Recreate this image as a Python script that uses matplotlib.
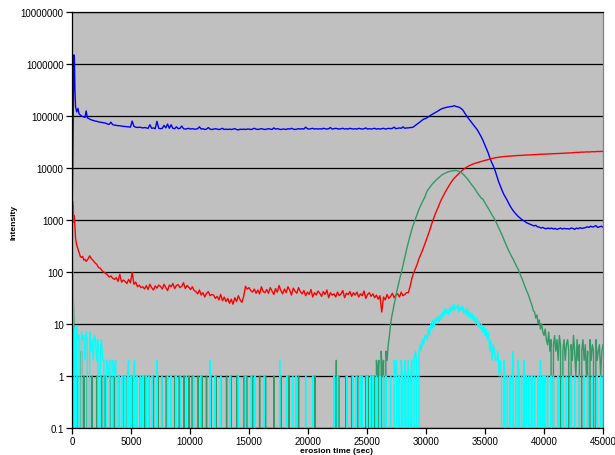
import numpy as np
import matplotlib
matplotlib.use("Agg")
import matplotlib.pyplot as plt
from matplotlib.ticker import FixedLocator, NullLocator

plt.rcParams['font.family'] = ['Liberation Sans', 'DejaVu Sans']

# ---------------- data ----------------
# blue / red sampling: fine start, then every 150 s
t_start = [0, 50, 100, 150, 200, 250, 300, 400, 500, 600, 700, 800, 900, 1000, 1100, 1200, 1300, 1400]
t_main = np.arange(1500, 45001, 150)
t_br = np.concatenate([t_start, t_main])

blue = np.array("""
600 5000 100000 1500000 1300000 300000 150000 120000 140000 110000 105000 100000 98000 96000 94000 125000 92000 90000
87000 84000 82000 80000 79000 77000 76000 75000 74000 73000
70000 69000 76000 68000 67000 66000 65000 65000 64000 63000
63000 62000 62000 61000 80000 63000 61000 60000 61000 60000
59000 60000 59000 58000 68000 58000 59000 57000 79000 58000
57000 58000 66000 59000 70000 58000 68000 58000 57000 62000
57000 58000 64000 57000 56000 57000 58000 56000 57000 56000
56000 57000 62000 56000 57000 55000 56000 60000 56000 55000
56000 57000 56000 55000 56000 58000 55000 56000 55000 56000
55000 56000 57000 55000 54000 56000 55000 56000 55000 56000
56000 55000 56000 58000 56000 55000 56000 57000 56000 55000
56000 57000 56000 55000 59000 56000 57000 56000 55000 56000
56000 55000 57000 56000 58000 56000 55000 56000 57000 56000
57000 56000 61000 57000 56000 57000 58000 56000 57000 56000
57000 56000 58000 57000 56000 57000 60000 56000 57000 58000
57000 56000 57000 58000 56000 57000 56000 58000 57000 56000
57000 56000 58000 57000 56000 57000 59000 56000 57000 56000
57000 58000 56000 57000 56000 57000 58000 56000 57000 58000
57000 58000 61000 57000 58000 59000 58000 62000 58000 59000
59000 60000 60000 62000 66000 70000 74000 79000 84000 88000
90000 95000 100000 105000 110000 115000 120000 126000 133000 138000
142000 145000 148000 150000 152000 153000 158000 152000 150000 146000
138000 128000 112000 100000 90000 81000 73000 66000 60000 54000
47000 41000 35000 29000 24000 20000 16000 13000 11000 9000
7000 5500 4500 3700 3100 2700 2350 2000 1750 1550
1400 1280 1180 1100 1030 980 930 880 850 820
790 770 790 740 730 700 720 690 680 700
680 700 670 690 660 680 700 670 690 680
680 670 700 690 660 700 680 710 690 700
710 740 720 760 730 750 780 720 740 760
730
""".split(), dtype=float)

red = np.array("""
50 2300 1800 900 1200 700 450 330 280 240 200 190 200 170 175 160 170 185
205 180 165 150 140 122 118 106 100 94
88 80 84 76 72 78 66 90 64 70
66 60 72 62 98 58 64 52 56 50
52 47 55 46 58 50 45 54 49 56
53 47 58 50 44 56 52 60 48 55
57 50 53 62 48 55 51 46 52 44
42 38 45 36 40 33 39 42 35 37
36 31 34 29 37 28 33 27 31 25
30 24 32 27 35 29 26 34 53 47
50 44 41 47 39 45 38 52 42 40
46 39 50 43 37 48 41 55 44 38
47 40 52 45 36 49 43 39 50 42
38 44 35 41 37 46 33 40 36 43
39 34 42 37 45 32 40 36 38 33
41 35 38 44 32 39 37 42 34 40
36 41 33 38 35 43 31 37 40 34
38 32 36 30 35 17 33 29 37 31
34 39 32 36 38 33 41 35 37 40
40 52 75 95 115 140 180 215 260 320
400 500 620 800 1000 1250 1500 1800 2200 2600
3000 3500 4000 4600 5200 5800 6400 6900 7500 8100
8700 9300 9900 10400 10900 11300 11700 12100 12400 12700
13000 13300 13600 13900 14200 14500 14800 15100 15400 15700
15900 16100 16300 16400 16600 16700 16800 16900 17000 17100
17200 17300 17400 17400 17500 17600 17700 17800 17800 17900
18000 18100 18100 18200 18300 18400 18400 18500 18600 18600
18700 18800 18800 18900 19000 19000 19100 19200 19200 19300
19400 19500 19500 19700 19800 20000 19900 20100 20200 20200
20300 20400 20300 20500 20600 20500 20700 20800 20700 20900
20800
""".split(), dtype=float)

# count series sampled every 100 s
t_cnt = np.arange(0, 45001, 100)

green = np.array("""
300 40 5 0 1 0 0 0 3 0
1 0 0 1 0 0 0 1 0 0
0 1 0 0 0 1 0 0 1 0
0 0 1 0 0 0 1 0 0 0
1 0 0 0 1 0 0 1 0 0
0 1 0 0 0 1 0 0 1 0
0 0 1 0 0 1 0 0 0 1
0 0 0 1 0 0 1 0 0 0
1 0 0 0 1 0 0 1 0 0
0 1 0 0 0 1 0 0 0 1
0 0 1 0 0 0 0 1 0 0
1 0 0 0 1 0 0 0 1 0
0 0 1 0 0 0 1 0 0 0
0 1 0 0 0 1 0 0 0 0
1 0 0 0 0 0 1 0 1 0
0 0 0 1 0 0 0 0 0 1
0 0 0 0 1 0 0 0 0 0
0 1 0 0 0 0 0 1 0 0
0 0 0 0 1 0 0 0 0 0
0 0 1 0 0 0 0 0 0 0
0 0 0 0 0 0 1 0 0 0
0 0 0 0 0 0 0 0 0 0
0 0 0 0 2 0 1 0 0 0
0 0 1 0 0 0 0 1 0 0
0 0 1 0 0 0 1 0 0 1
0 1 0 0 1 0 1 0 2 1
2 0 3 1 2 0 3 2 4 6
10 14 18 24 30 40 50 62 78 95
120 150 190 240 300 370 450 550 660 780
900 1050 1200 1400 1600 1800 2000 2250 2500 2750
3200 3600 3900 4200 4500 4800 5100 5400 5700 6000
6300 6600 6900 7200 7500 7700 7900 8100 8300 8500
8600 8700 8800 8900 8900 9000 8900 8800 8600 8400
8100 7800 7400 7000 6600 6200 5800 5400 5000 4700
4400 4100 3800 3500 3200 3000 2800 2600 2550 2350
2150 1950 1800 1650 1500 1370 1250 1150 1050 950
850 760 680 610 540 480 420 370 330 290
260 235 210 190 175 155 140 125 115 100
88 78 68 60 52 45 40 35 30 26
22 18 17 13 15 10 12 8 10 7
6 8 5 4 7 3 5 0 4 6
3 5 2 6 4 0 3 5 2 4
5 3 0 4 2 6 3 1 5 2
4 0 3 5 2 4 1 3 0 5
2 4 3 0 5 2 3 4 1 3
4
""".split(), dtype=float)

cyan = np.array("""
250000 9 8 0 9 5 6 0 7 5
6 2 7 5 0 7 3 5 2 6
5 2 5 0 3 5 2 2 0 2
2 1 2 0 2 2 1 2 0 1
1 0 1 1 0 1 0 1 2 0
1 0 1 2 0 1 0 0 1 0
1 0 0 1 0 1 0 0 1 0
0 0 2 0 0 0 1 0 0 0
0 1 0 0 1 0 0 0 1 0
0 0 1 0 0 0 0 1 0 0
0 0 0 1 0 0 0 0 0 1
0 0 0 0 0 0 0 2 0 0
0 1 0 0 0 0 1 0 0 0
0 0 0 0 1 0 0 0 0 0
0 1 0 0 0 0 0 1 0 0
0 0 1 0 0 1 0 0 0 0
0 0 0 1 0 0 0 0 0 0
0 0 0 0 0 0 2 0 0 0
0 0 1 0 0 0 0 1 0 0
1 0 0 0 0 0 0 0 1 0
0 0 0 0 1 0 0 0 0 0
0 0 0 0 0 0 0 0 0 0
0 0 1 0 0 1 0 0 0 0
0 0 0 1 0 0 0 0 1 0
0 1 0 0 1 0 1 0 0 0
1 0 0 1 0 1 0 0 1 0
0 1 0 0 1 0 1 0 0 0
1 0 0 2 1 2 0 1 0 2
1 0 2 1 0 2 0 1 2 0
2 3 2 0 3 4 3 5 4 6
6 5 8 6 10 8 12 9 13 11
14 11 15 12 17 14 20 16 19 15
21 17 22 18 24 19 20 23 17 21
18 22 16 19 15 20 14 17 13 16
12 14 10 13 9 11 8 10 7 9
6 8 5 7 3 5 2 4 3 2
2 3 1 2 1 0 2 1 0 1
0 1 0 1 3 0 1 0 2 1
0 1 0 2 0 1 0 1 0 1
1 0 1 0 0 1 0 2 0 1
0 1 0 1 0 0 1 0 1 0
0 0 1 0 0 0 1 0 0 1
0 0 0 1 0 0 1 0 0 0
1 0 0 0 1 0 0 1 0 0
0 1 0 0 0 1 0 0 1 0
1
""".split(), dtype=float)

y_ticks = [0.1, 1, 10, 100, 1000, 10000, 100000, 1000000, 10000000]
y_ticklabels = ["0.1", "1", "10", "100", "1000", "10000", "100000", "1000000", "10000000"]
x_ticks = [0, 5000, 10000, 15000, 20000, 25000, 30000, 35000, 40000, 45000]

# ---------------- figure ----------------
W, H = 615, 456
fig = plt.figure(figsize=(W / 100, H / 100), dpi=100)
fig.patch.set_facecolor('white')
ax = fig.add_axes([72 / W, (H - 429) / H, (603 - 72) / W, (429 - 13) / H])
ax.set_facecolor('#C0C0C0')

lw = 1.0
ax.plot(t_br, blue, color='#0000FF', lw=lw)
ax.plot(t_br, red, color='#FF0000', lw=lw)
ax.plot(t_cnt, green, color='#339966', lw=lw)
ax.plot(t_cnt, cyan, color='#00FFFF', lw=lw)

ax.set_yscale('log', nonpositive='clip')
ax.set_ylim(0.1, 1e7)
ax.set_xlim(0, 45000)
ax.yaxis.set_major_locator(FixedLocator(y_ticks))
ax.yaxis.set_minor_locator(NullLocator())
ax.set_yticklabels(y_ticklabels)
ax.set_xticks(x_ticks)
ax.set_xticklabels([str(v) for v in x_ticks])

ax.yaxis.grid(True, color='black', lw=0.9)
ax.set_axisbelow(True)

for s in ['left', 'bottom', 'top']:
    ax.spines[s].set_color('black')
    ax.spines[s].set_linewidth(0.9)
ax.spines['right'].set_color('#808080')
ax.spines['right'].set_linewidth(0.9)

ax.tick_params(axis='both', direction='out', length=4, width=0.9, labelsize=7, pad=2, colors='black')

fig.text(337 / W, 1 - 452 / H, 'erosion time (sec)', ha='center', va='center', fontsize=6, fontweight='bold')
fig.text(14 / W, 1 - 222 / H, 'Intensity', ha='center', va='center', rotation=90, fontsize=6, fontweight='bold')

fig.savefig('out.png', dpi=100, facecolor='white')
